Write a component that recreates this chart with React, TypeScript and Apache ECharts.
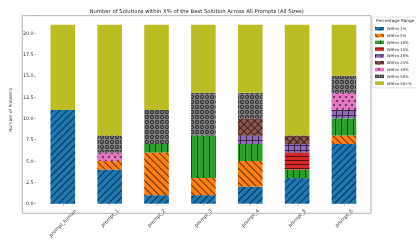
import React, { useEffect, useRef } from "react";
import * as echarts from "echarts";

const categories = ["prompt_human", "prompt_1", "prompt_2", "prompt_3", "prompt_4", "prompt_5", "prompt_6"];
const seriesNames = ["Within 1%", "Within 5%", "Within 10%", "Within 15%", "Within 20%", "Within 25%", "Within 30%", "Within 50%", "Within 50+%"];
const within1 = [11, 4, 1, 1, 2, 3, 7];
const within5 = [0, 1, 5, 2, 3, 0, 1];
const within10 = [0, 0, 1, 5, 2, 1, 2];
const within15 = [0, 0, 0, 0, 0, 2, 0];
const within20 = [0, 0, 0, 0, 1, 1, 1];
const within25 = [0, 0, 0, 0, 2, 1, 0];
const within30 = [0, 1, 0, 0, 0, 0, 2];
const within50 = [0, 2, 4, 5, 3, 0, 2];
const within50plus = [10, 13, 10, 8, 8, 13, 6];
const yTicks = [0, 2.5, 5, 7.5, 10, 12.5, 15, 17.5, 20];

const colors = ["#1f77b4", "#ff7f0e", "#2ca02c", "#d62728", "#9467bd", "#8c564b", "#e377c2", "#7f7f7f", "#bcbd22"];
const INK = "rgba(0,0,0,0.6)";
const ring = "path://M0,5A5,5,0,1,1,10,5A5,5,0,1,1,0,5ZM2.2,5A2.8,2.8,0,1,0,7.8,5A2.8,2.8,0,1,0,2.2,5Z";

const decals: any[] = [
  { symbol: "rect", symbolSize: 1, dashArrayX: [1, 0], dashArrayY: [1, 4], rotation: -Math.PI / 4, color: INK },
  { symbol: "rect", symbolSize: 1, dashArrayX: [1, 0], dashArrayY: [1, 4], rotation: Math.PI / 4, color: INK },
  { symbol: "rect", symbolSize: 1, dashArrayX: [1, 0], dashArrayY: [1, 5], rotation: Math.PI / 2, color: INK },
  { symbol: "rect", symbolSize: 1, dashArrayX: [1, 0], dashArrayY: [1, 3], rotation: 0, color: INK },
  { symbol: "rect", symbolSize: 1, dashArrayX: [[1, 0], [1, 5]], dashArrayY: [1, 0, 4, 0], rotation: 0, color: INK },
  { symbol: "rect", symbolSize: 1, dashArrayX: [[1, 0], [1, 4]], dashArrayY: [1, 0, 4, 0], rotation: Math.PI / 4, color: INK },
  { symbol: "circle", symbolSize: 1, dashArrayX: [[2, 4], [0, 3, 2, 1]], dashArrayY: [2, 2], rotation: 0, color: INK },
  { symbol: ring, symbolSize: 1, dashArrayX: [4, 1], dashArrayY: [4, 1], rotation: 0, color: "rgba(0,0,0,0.7)" },
  null,
];

const values = [within1, within5, within10, within15, within20, within25, within30, within50, within50plus];

export default function App() {
  const ref = useRef<HTMLDivElement>(null);
  useEffect(() => {
    if (!ref.current) return;
    const chart = echarts.init(ref.current, null, { renderer: "svg" });
    const F = "DejaVu Sans";
    const gridLeft = 25.6;
    const gridWidth = 341.8;
    const gridTop = 15.7;
    const gridHeight = 197.6;
    chart.setOption({
      animation: false,
      textStyle: { fontFamily: F },
      title: {
        text: "Number of Solutions within X% of the Best Solution Across All Prompts (All Sizes)",
        left: 196.7,
        top: 8,
        textAlign: "center",
        padding: 0,
        textStyle: { fontFamily: F, fontSize: 5.3, fontWeight: "normal", color: "#222" },
      },
      grid: { left: gridLeft, top: gridTop, width: gridWidth, height: gridHeight, containLabel: false },
      legend: {
        orient: "vertical",
        left: 372.5,
        top: 17,
        padding: [9, 15, 2, 2.5],
        itemWidth: 9,
        itemHeight: 3.5,
        itemGap: 1.3,
        icon: "rect",
        borderColor: "#cccccc",
        borderWidth: 0.6,
        borderRadius: 2,
        backgroundColor: "rgba(255,255,255,0.85)",
        textStyle: { fontFamily: F, fontSize: 3.8, lineHeight: 5.5, color: "#222", padding: [0, 0, 0, -2] },
        data: seriesNames,
      },
      xAxis: {
        type: "category",
        data: categories,
        axisLine: { show: false },
        axisTick: { show: true, alignWithLabel: true, length: 2, lineStyle: { color: "#999", width: 0.6 } },
        axisLabel: {
          interval: 0,
          rotate: 45,
          align: "center",
          verticalAlign: "middle",
          margin: 0,
          fontFamily: F,
          fontSize: 4.8,
          color: "#333",
          formatter: (v: string) => (v.length > 9 ? `{h|${v}}` : `{p|${v}}`),
          rich: {
            h: { fontFamily: F, fontSize: 4.8, color: "#333", padding: [27.6, 27.6, 0, 0] },
            p: { fontFamily: F, fontSize: 4.8, color: "#333", padding: [20.6, 20.6, 0, 0] },
          },
        },
      },
      yAxis: {
        type: "value",
        min: 0,
        max: 22.05,
        interval: 2.5,
        offset: 3.3,
        name: "Number of Problems",
        nameLocation: "middle",
        nameGap: 15,
        nameTextStyle: { fontFamily: F, fontSize: 4.3, color: "#333" },
        axisLine: { show: false },
        axisTick: { show: true, length: 2, lineStyle: { color: "#999", width: 0.6 } },
        splitLine: { show: false },
        axisLabel: {
          fontFamily: F,
          fontSize: 4.8,
          color: "#333",
          margin: 2.5,
          formatter: (v: number) => (yTicks.indexOf(v) >= 0 ? v.toFixed(1) : ""),
        },
      },
      graphic: [
        {
          type: "rect",
          z: 50,
          silent: true,
          shape: { x: 22.3, y: gridTop, width: 371 - 22.3, height: gridHeight },
          style: { fill: "none", stroke: "#a0a0a0", lineWidth: 0.8 },
        },
        {
          type: "text",
          z: 60,
          left: 376,
          top: 18.6,
          style: { text: "Percentage Range", fontFamily: F, fontSize: 4.2, fill: "#222" },
        },
      ],
      series: seriesNames.map((name, i) => ({
        name,
        type: "bar",
        stack: "total",
        barWidth: 24.6,
        data: values[i],
        itemStyle: decals[i] ? { color: colors[i], decal: decals[i] } : { color: colors[i] },
      })),
    });
    return () => chart.dispose();
  }, []);
  return <div ref={ref} style={{ position: "fixed", left: 0, top: 0, width: 416, height: 240 }} />;
}
